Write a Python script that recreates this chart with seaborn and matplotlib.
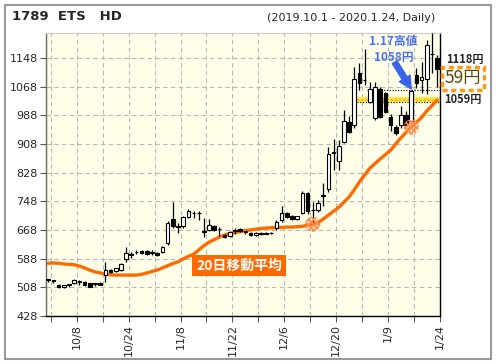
import numpy as np
import pandas as pd
import matplotlib
matplotlib.use("Agg")
import matplotlib.pyplot as plt
import matplotlib.patches as mpatches
import seaborn as sns

# daily OHLC, 2019-10-01 .. 2020-01-24 (76 trading days)
opens = [530, 527, 514, 508, 516, 519, 525, 524, 519, 519, 520, 542, 556, 554, 555, 586,
         599, 607, 610, 609, 606, 605, 607, 631, 698, 678, 680, 705, 716, 715, 664, 668,
         679, 671, 655, 651, 665, 670, 664, 660, 654, 659, 658, 660, 673, 695, 716, 707,
         698, 715, 770, 724, 723, 766, 782, 884, 861, 914, 970, 960, 1105, 1087, 1025, 980,
         1062, 1049, 984, 956, 960, 988, 972, 1100, 1086, 1090, 1158, 1148]
highs = [532, 529, 516, 515, 518, 530, 527, 526, 521, 521, 522, 579, 558, 563, 575, 621,
         606, 612, 612, 611, 611, 607, 623, 692, 745, 687, 708, 726, 720, 720, 701, 698,
         682, 676, 658, 664, 672, 673, 666, 662, 662, 661, 662, 662, 695, 735, 718, 709,
         708, 777, 774, 745, 751, 800, 900, 921, 919, 1002, 985, 1123, 1133, 1174, 1081, 1081,
         1068, 1054, 990, 960, 1013, 1000, 1058, 1119, 1137, 1197, 1217, 1155]
lows = [524, 521, 505, 506, 510, 516, 515, 512, 508, 512, 513, 524, 548, 552, 553, 579,
        590, 600, 601, 599, 598, 596, 605, 626, 673, 659, 672, 702, 700, 696, 648, 665,
        664, 650, 646, 648, 658, 662, 658, 652, 652, 654, 656, 656, 668, 691, 700, 696,
        696, 712, 712, 689, 719, 735, 775, 835, 835, 910, 938, 952, 1058, 1072, 1021, 975,
        979, 993, 944, 934, 951, 955, 965, 1063, 1050, 1048, 1105, 1066]
closes = [528, 526, 508, 513, 515, 528, 524, 514, 510, 518, 515, 556, 550, 561, 573, 604,
          598, 606, 603, 601, 605, 598, 621, 688, 679, 676, 703, 720, 714, 714, 662, 681,
          669, 670, 649, 662, 666, 665, 663, 654, 660, 658, 659, 659, 691, 716, 704, 698,
          706, 770, 720, 723, 744, 764, 879, 882, 903, 972, 942, 1090, 1077, 1085, 1062, 1066,
          984, 998, 960, 937, 988, 960, 1055, 1077, 1094, 1183, 1160, 1118]
ma20 = [575, 576, 575, 573, 572, 571, 567, 562, 556, 551, 548, 545, 543, 542, 542, 542,
        542, 542, 544, 548, 552, 556, 562, 568, 574, 579, 587, 594, 600, 612, 624, 634,
        641, 648, 654, 657, 661, 663, 666, 668, 670, 672, 673, 674, 675, 675, 676, 676,
        677, 678, 681, 684, 688, 698, 709, 720, 731, 745, 760, 780, 802, 821, 840, 853,
        866, 878, 890, 908, 925, 940, 955, 968, 982, 1000, 1015, 1030]

tick_days = [5, 15, 25, 35, 45, 55, 65, 75]
tick_labels = ["10/8", "10/24", "11/8", "11/22", "12/6", "12/20", "1/9", "1/24"]
y_ticks = [428, 508, 588, 668, 748, 828, 908, 988, 1068, 1148]
cross_days = [51, 70]        # MA crossing markers
high_day = 70                # 1.17 high
band_lo, band_hi = 1026, 1040
last_close, ref_price = 1118, 1059

df = pd.DataFrame({"day": np.arange(len(opens)), "open": opens, "high": highs,
                   "low": lows, "close": closes, "ma": ma20})

sns.set_style("white")
plt.rcParams["font.family"] = ["DejaVu Sans", "Noto Sans CJK JP"]
plt.rcParams["hatch.linewidth"] = 1.2
jp = ["Noto Sans CJK JP", "DejaVu Sans"]

fig = plt.figure(figsize=(4.96, 3.64), dpi=100)
ax = fig.add_axes([0.0927, 0.132, 0.794, 0.777])
ax.set_facecolor("#fefee9")

# frame around figure
fig.patches.append(mpatches.Rectangle((5 / 496, 5 / 364), 486 / 496, 354 / 364,
                                      transform=fig.transFigure, fill=False,
                                      edgecolor="#9a9a9a", linewidth=1.5))

# candles
up = df["close"] >= df["open"]
ax.vlines(df["day"], df["low"], df["high"], color="black", linewidth=0.9, zorder=3)
body_bottom = np.minimum(df["open"], df["close"])
body_h = np.maximum(np.abs(df["close"] - df["open"]), 1.5)
ax.bar(df["day"], body_h, bottom=body_bottom, width=0.7,
       color=np.where(up, "white", "black"), edgecolor="black", linewidth=0.8, zorder=4)

# 20-day moving average
sns.lineplot(data=df, x="day", y="ma", ax=ax, color="#ff6a00", linewidth=2.4, zorder=2)

# crossing markers
ax.scatter(df["day"][cross_days], df["ma"][cross_days], marker="o", s=120,
           facecolor="none", edgecolor="#ff8c4a", linewidth=0, hatch="xxxxxx", zorder=5)

# yellow band and high line
ax.fill_between([59.5, 75.5], band_lo, band_hi, facecolor="#ffe44a", edgecolor="#f0c000",
                hatch="....", linewidth=0, zorder=1.5)
ax.hlines([band_lo], 59.5, 75.5, colors="black", linestyles=(0, (1, 1.5)), linewidth=0.8, zorder=1.6)
ax.hlines([highs[high_day]], 61.5, 75.5, colors="black", linestyles=(0, (1, 1.5)),
          linewidth=0.8, zorder=1.6)

# gridlines sit on day boundaries
ax.set_xlim(-0.45, 75.5)
ax.set_ylim(428, 1217)
ax.set_yticks(y_ticks)
ax.set_yticklabels([str(v) for v in y_ticks], fontsize=8)
ax.set_xticks([d + 0.5 for d in tick_days])
ax.set_xticklabels(tick_labels, rotation=90, fontsize=8)
ax.set_xticks([d + 0.5 for d in range(0, 76, 5)], minor=True)
ax.tick_params(axis="both", which="both", direction="out", length=4, width=0.8,
               color="#555555", bottom=True, left=True, pad=2)
ax.set_xlabel("")
ax.set_ylabel("")
ax.grid(True, which="both", axis="x", color="#b8b8b8", linestyle=(0, (4, 3)), linewidth=0.8)
ax.grid(True, which="major", axis="y", color="#b8b8b8", linestyle=(0, (4, 3)), linewidth=0.8)
ax.set_axisbelow(True)
for side in ["left", "bottom", "right"]:
    ax.spines[side].set_color("black")
    ax.spines[side].set_linewidth(1.0)
ax.spines["left"].set_color("#666666")
ax.spines["top"].set_color("#c8c8c8")

# titles
fig.text(12 / 496, 1 - 16 / 364, "1789  ETS   HD", fontsize=9.5, fontweight="bold", va="center")
fig.text(435 / 496, 1 - 18 / 364, "(2019.10.1 - 2020.1.24, Daily)", fontsize=8,
         ha="right", va="center")

# MA legend box
ax.text(0.49, 0.178, "20日移動平均", transform=ax.transAxes, family=jp, fontsize=10,
        fontweight="bold", color="white", ha="center", va="center", zorder=6,
        bbox=dict(boxstyle="square,pad=0.28", facecolor="#ff6a00", edgecolor="none"))

# high annotation
ax.text(66.6, 1170, "1.17高値\n1058円", family=jp, fontsize=8.5, fontweight="bold",
        color="#4a72ee", ha="center", va="center", linespacing=1.3, zorder=7)
ax.annotate("", xy=(high_day, highs[high_day] + 3), xytext=(66.8, 1136),
            arrowprops=dict(arrowstyle="simple,head_width=0.9,head_length=0.9,tail_width=0.4",
                            color="#3a64e8", shrinkA=0, shrinkB=0, mutation_scale=10),
            zorder=7)

# right-side price labels
ax.text(1.015, 0.908, f"{last_close}円", transform=ax.transAxes, family=jp, fontsize=8,
        fontweight="bold", va="center", ha="left", clip_on=False)
ax.text(1.012, 0.84, f"{last_close - ref_price}円", transform=ax.transAxes, family=jp,
        fontsize=12.5, color="#5a4a00", va="center", ha="left", clip_on=False,
        bbox=dict(boxstyle="square,pad=0.15", facecolor="none", edgecolor="#ff9a10",
                  linestyle=(0, (1.5, 1)), linewidth=2.5))
ax.text(1.01, 0.767, f"{ref_price}円", transform=ax.transAxes, family=jp, fontsize=8,
        fontweight="bold", va="center", ha="left", clip_on=False)

fig.savefig("out.png", dpi=100, facecolor="white")
